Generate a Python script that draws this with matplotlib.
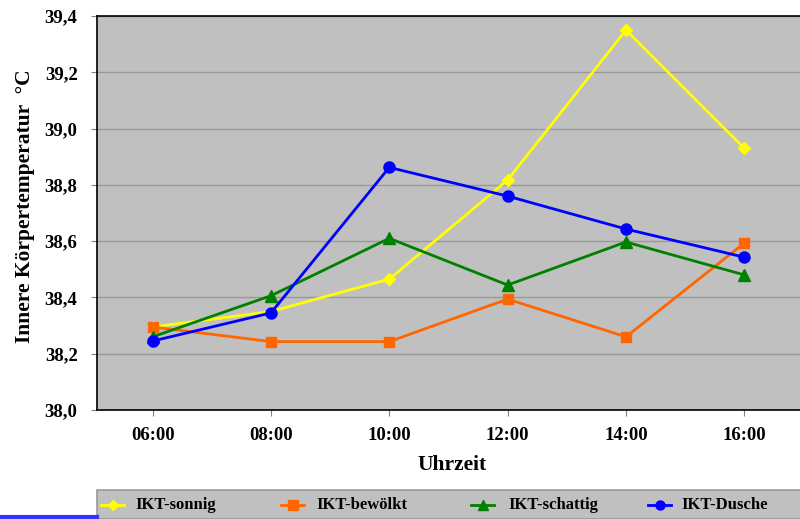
import matplotlib
matplotlib.use("Agg")
import matplotlib.pyplot as plt
from matplotlib.lines import Line2D
from matplotlib.patches import Rectangle

times = ["06:00", "08:00", "10:00", "12:00", "14:00", "16:00"]
sonnig = [38.295, 38.35, 38.465, 38.817, 39.35, 38.93]
bewoelkt = [38.295, 38.243, 38.243, 38.394, 38.26, 38.593]
schattig = [38.26, 38.406, 38.61, 38.444, 38.597, 38.48]
dusche = [38.245, 38.345, 38.862, 38.76, 38.643, 38.543]
yticks = [38.0, 38.2, 38.4, 38.6, 38.8, 39.0, 39.2, 39.4]

plt.rcParams['font.family'] = ['Liberation Serif', 'DejaVu Serif']
plt.rcParams['font.weight'] = 'bold'

W, H = 800, 519
fig = plt.figure(figsize=(W/100, H/100), dpi=100)
ax = fig.add_axes([97/W, 1-410/H, (807-97)/W, (410-16)/H])
ax.set_facecolor('#C0C0C0')

x = list(range(len(times)))
series = [
    (sonnig, '#FFFF00', 'D', 6, 5, 'IKT-sonnig'),
    (bewoelkt, '#FF6600', 's', 7.5, 6.5, 'IKT-bewölkt'),
    (schattig, '#008000', '^', 8, 7, 'IKT-schattig'),
    (dusche, '#0000FF', 'o', 8, 6.5, 'IKT-Dusche'),
]
for vals, c, m, ms, lms, lab in series:
    ax.plot(x, vals, color=c, marker=m, markersize=ms, linewidth=2, label=lab, zorder=3)

ax.set_xlim(-0.47, 5.53)
ax.set_ylim(38.0, 39.4)
ax.set_yticks(yticks)
ax.set_yticklabels([f"{v:.1f}".replace('.', ',') for v in yticks], fontsize=13.5, fontweight='bold')
ax.set_xticks(x)
ax.set_xticklabels(times, fontsize=13.5, fontweight='bold')
ax.yaxis.grid(True, color='#999999', linewidth=1)
ax.set_axisbelow(True)
for s in ['top', 'left', 'bottom']:
    ax.spines[s].set_color('black')
    ax.spines[s].set_linewidth(1.2)
ax.spines['right'].set_visible(False)
ax.tick_params(axis='y', length=4, pad=10, color='#808080')
ax.tick_params(axis='x', length=4, pad=8, color='#808080')

ax.set_ylabel('Innere Körpertemperatur  °C', fontsize=15.5, fontweight='bold')
ax.yaxis.set_label_coords((35-97)/710, (410-206)/394)
ax.set_xlabel('Uhrzeit', fontsize=15.5, fontweight='bold', labelpad=8)

# legend box
fig.add_artist(Rectangle((97/W, 0), (810-97)/W, 29/H, transform=fig.transFigure,
                         facecolor='#C0C0C0', edgecolor='#999999', linewidth=1.2))
handle_x = [101, 281, 471, 648]
text_x = [135, 316, 508, 681]
ly = 1 - 505/H
for (vals, c, m, ms, lms, lab), hx, tx in zip(series, handle_x, text_x):
    fig.add_artist(Line2D([hx/W, (hx+23)/W], [ly, ly], color=c, linewidth=2,
                          transform=fig.transFigure))
    fig.add_artist(Line2D([(hx+11.5)/W], [ly], color=c, marker=m, markersize=lms,
                          transform=fig.transFigure))
    fig.text(tx/W, ly, lab, fontsize=12, fontweight='bold', va='center', ha='left')

fig.add_artist(Line2D([0, 97/W], [2.5/H, 2.5/H], color='#3333FF', linewidth=3, transform=fig.transFigure))

fig.savefig('out.png', dpi=100)
